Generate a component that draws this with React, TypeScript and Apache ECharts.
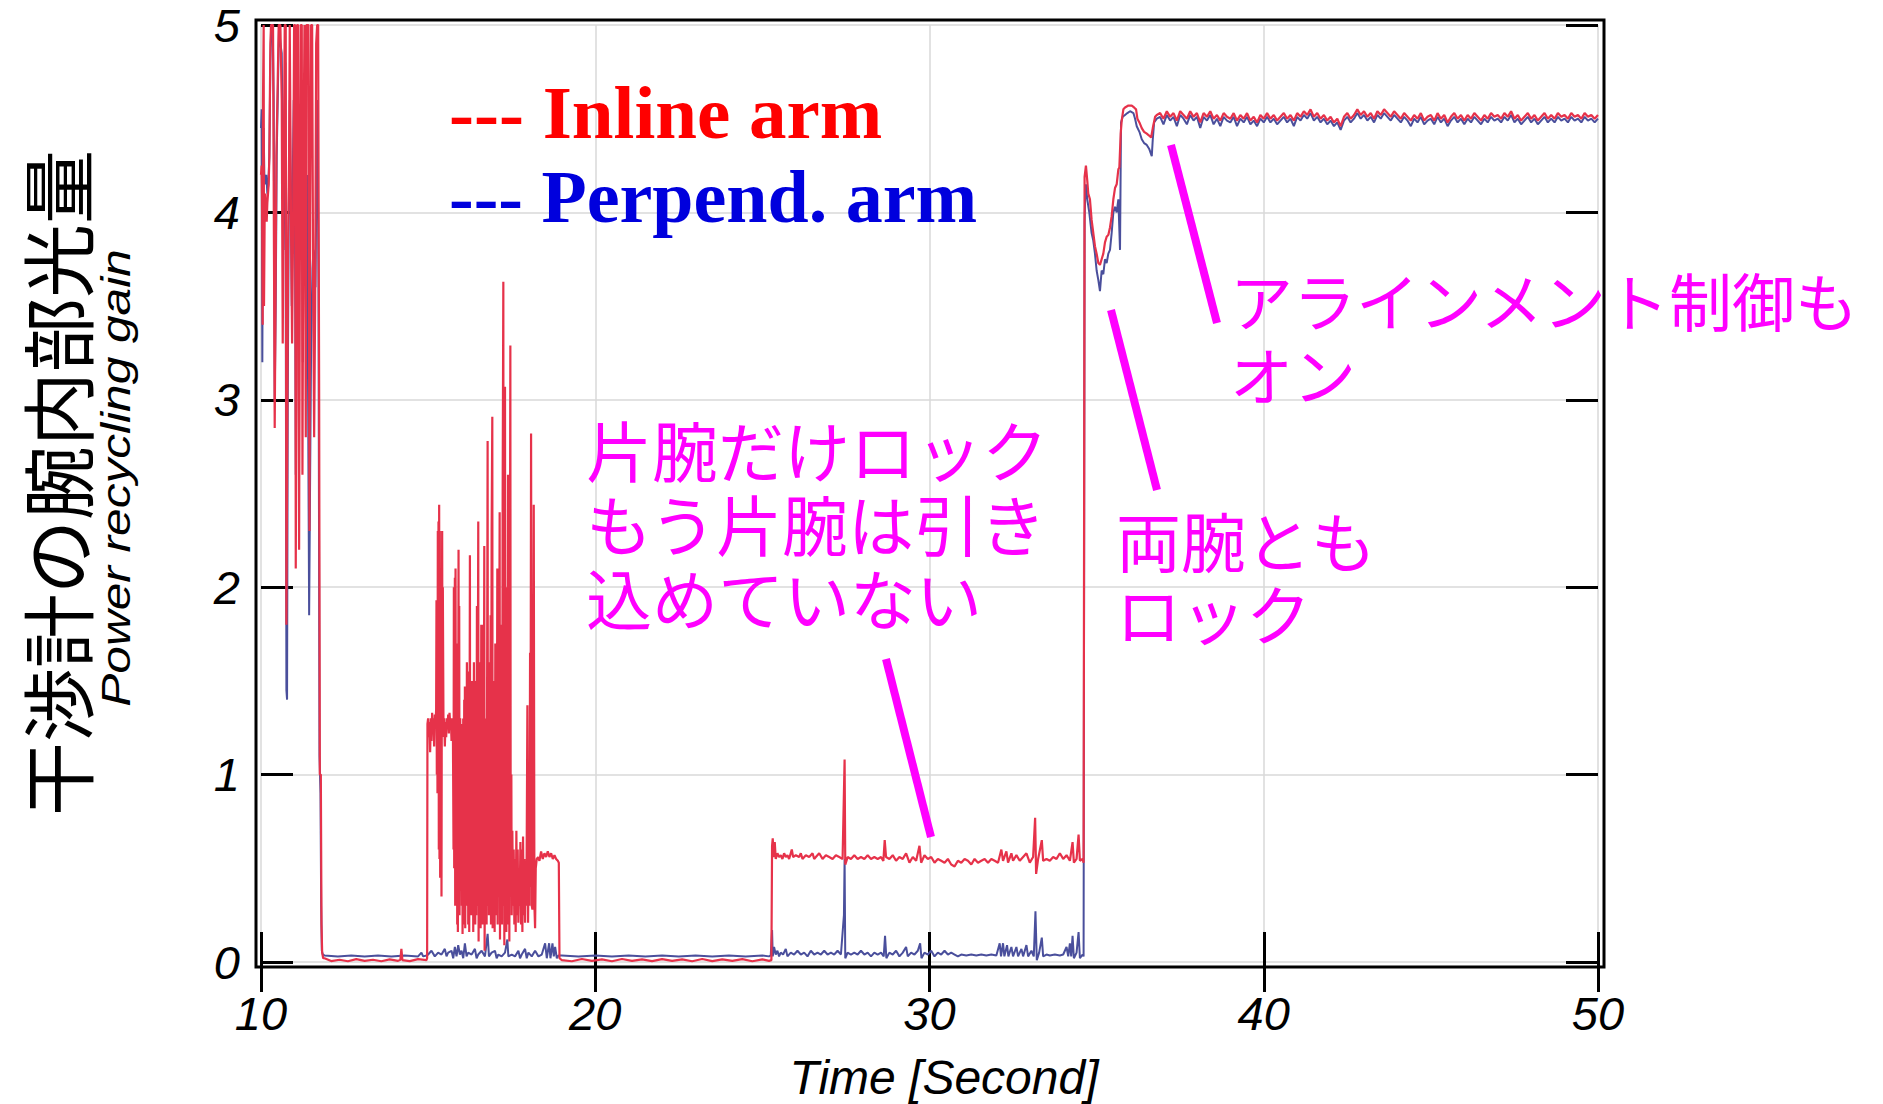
import React, { useEffect, useRef } from "react";
import * as echarts from "echarts";

// ---------------- data (time [s], power recycling gain) ----------------
const xTickValues = [10, 20, 30, 40, 50];
const yTickValues = [0, 1, 2, 3, 4, 5];

// Inline arm (red)
const inlineBurstA: number[][] = [
  [10.0, 4.2], [10.02, 4.25], [10.03, 4.1], [10.05, 3.4], [10.06, 4.6], [10.08, 5], [10.09, 3.5],
  [10.11, 4.0], [10.13, 4.1], [10.15, 4.0], [10.17, 3.95], [10.19, 4.05], [10.21, 4.1], [10.23, 4.15],
  [10.25, 4.3], [10.28, 4.9], [10.3, 5], [10.33, 5], [10.36, 5], [10.38, 5], [10.41, 2.85], [10.43, 3.4],
  [10.46, 4.3], [10.5, 4.7], [10.53, 5], [10.55, 5], [10.58, 5], [10.62, 4.6], [10.65, 3.3], [10.68, 4.2],
  [10.71, 5], [10.74, 5], [10.76, 1.8], [10.78, 2.6], [10.81, 3.8], [10.84, 4.3], [10.86, 5], [10.88, 5],
  [10.9, 3.9], [10.93, 3.3], [10.96, 3.9], [10.99, 5], [11.02, 5], [11.04, 2.1], [11.06, 3.1], [11.08, 5],
  [11.11, 5], [11.14, 2.2], [11.16, 3.6], [11.19, 5], [11.22, 5], [11.24, 2.6], [11.27, 4.2], [11.3, 5],
  [11.32, 5], [11.34, 2.8], [11.36, 5], [11.39, 5], [11.42, 5], [11.45, 2.3], [11.47, 4.0], [11.5, 5],
  [11.53, 5], [11.56, 3.6], [11.59, 2.8], [11.62, 3.5], [11.65, 4.9], [11.68, 5], [11.71, 5], [11.74, 3.0],
  [11.76, 1.0], [11.79, 1.0], [11.81, 0.2], [11.83, 0.05], [11.86, 0.02],
];
const inlineLowB: number[][] = [
  [11.9, 0.02], [12.1, 0.005], [12.35, 0.012], [12.6, 0.004], [12.85, 0.015], [13.1, 0.006], [13.35, 0.012],
  [13.6, 0.004], [13.85, 0.014], [14.1, 0.006], [14.17, 0.012], [14.2, 0.07], [14.23, 0.01], [14.45, 0.005],
  [14.7, 0.015], [14.95, 0.01],
];
const inlineBurstC: number[][] = [
  [14.97, 0.02], [14.98, 1.27], [15.0, 1.3], [15.02, 1.2], [15.04, 1.28], [15.06, 1.12], [15.08, 1.3],
  [15.1, 1.18], [15.12, 1.33], [15.14, 1.22], [15.16, 1.3], [15.18, 1.15], [15.2, 1.32], [15.22, 1.25],
  [15.24, 1.35], [15.25, 1.93], [15.26, 1.0], [15.27, 1.85], [15.28, 0.9], [15.29, 2.3], [15.3, 1.1],
  [15.31, 2.35], [15.32, 0.6], [15.33, 2.44], [15.34, 0.55], [15.35, 2.3], [15.36, 0.45], [15.37, 2.1],
  [15.38, 1.3], [15.39, 2.0], [15.4, 0.35], [15.41, 1.5], [15.42, 2.3], [15.43, 1.2], [15.44, 2.0],
  [15.46, 1.25], [15.48, 1.3], [15.5, 1.15], [15.52, 1.28], [15.54, 1.2], [15.56, 1.3], [15.58, 1.25],
  [15.6, 1.32], [15.62, 1.22], [15.64, 1.33], [15.66, 1.27], [15.68, 1.3], [15.7, 1.18], [15.72, 1.28],
  [15.74, 1.3], [15.76, 0.6], [15.77, 2.0], [15.78, 0.5], [15.79, 1.5], [15.8, 2.05], [15.81, 0.3],
  [15.82, 2.1], [15.83, 0.9], [15.84, 1.5], [15.85, 0.5], [15.86, 1.7], [15.87, 0.2], [15.88, 1.4],
  [15.89, 0.16], [15.91, 2.2], [15.92, 0.3], [15.93, 1.9], [15.94, 0.25], [15.96, 1.3], [15.98, 0.6],
  [16.0, 1.27], [16.01, 0.3], [16.02, 1.1], [16.03, 0.15], [16.05, 1.3], [16.06, 0.2], [16.08, 1.4],
  [16.09, 0.5], [16.1, 1.47], [16.11, 0.18], [16.13, 1.0], [16.14, 0.3], [16.16, 1.6], [16.17, 0.35],
  [16.19, 1.2], [16.2, 0.2], [16.22, 1.55], [16.23, 0.16], [16.25, 2.17], [16.26, 0.4], [16.28, 1.2],
  [16.29, 0.25], [16.31, 1.5], [16.32, 0.3], [16.34, 1.1], [16.35, 0.16], [16.37, 1.6], [16.38, 0.4],
  [16.4, 1.2], [16.41, 0.2], [16.43, 1.5], [16.44, 0.25], [16.46, 1.9], [16.47, 0.3], [16.5, 2.35],
  [16.51, 0.11], [16.53, 1.6], [16.54, 0.4], [16.56, 1.1], [16.57, 0.18], [16.59, 1.8], [16.6, 0.35],
  [16.62, 1.4], [16.63, 0.2], [16.65, 1.8], [16.66, 0.45], [16.68, 2.22], [16.69, 0.06], [16.71, 1.3],
  [16.72, 0.3], [16.74, 1.2], [16.75, 0.2], [16.78, 2.78], [16.79, 0.3], [16.81, 1.6], [16.82, 0.25],
  [16.84, 0.7], [16.85, 0.4], [16.87, 1.85], [16.88, 0.2], [16.9, 2.3], [16.92, 2.91], [16.93, 0.18],
  [16.95, 1.5], [16.96, 0.3], [16.98, 1.1], [16.99, 0.16], [17.01, 1.7], [17.02, 0.25], [17.04, 1.0],
  [17.05, 0.4], [17.07, 2.1], [17.08, 0.2], [17.1, 1.4], [17.11, 0.4], [17.14, 2.4], [17.15, 0.12],
  [17.17, 1.3], [17.18, 0.3], [17.2, 1.8], [17.21, 0.2], [17.23, 2.5], [17.25, 3.63], [17.26, 0.3],
  [17.27, 2.6], [17.28, 0.09], [17.3, 3.07], [17.31, 0.2], [17.33, 1.5], [17.34, 0.16], [17.36, 2.0],
  [17.37, 0.3], [17.39, 2.6], [17.4, 0.2], [17.42, 1.2], [17.43, 0.11], [17.46, 3.29], [17.47, 0.4],
  [17.49, 1.0], [17.5, 0.25], [17.52, 0.7], [17.54, 0.3], [17.56, 0.6], [17.58, 0.2], [17.6, 0.55],
  [17.62, 0.16], [17.64, 0.7], [17.66, 0.25], [17.68, 0.6], [17.7, 0.21], [17.72, 0.5], [17.74, 0.3],
  [17.76, 0.64], [17.78, 0.2], [17.8, 0.6], [17.82, 0.16], [17.84, 0.67], [17.86, 0.25], [17.88, 0.55],
  [17.9, 0.21], [17.92, 0.5], [17.94, 0.3], [17.96, 1.0], [17.97, 1.37], [17.99, 0.21], [18.01, 0.6],
  [18.03, 0.3], [18.05, 1.65], [18.06, 0.4], [18.08, 2.82], [18.1, 0.3], [18.12, 0.28], [18.14, 1.0],
  [18.16, 2.44], [18.18, 0.3], [18.2, 0.18], [18.22, 0.5], [18.25, 0.55], [18.29, 0.56], [18.33, 0.54],
  [18.38, 0.59], [18.43, 0.55], [18.48, 0.58], [18.53, 0.56], [18.58, 0.59], [18.63, 0.56], [18.68, 0.58],
  [18.73, 0.55], [18.78, 0.57], [18.83, 0.55], [18.88, 0.54], [18.91, 0.53], [18.93, 0.02],
];
const inlineLowD: number[][] = [
  [19.0, 0.01], [19.3, 0.004], [19.6, 0.016], [19.9, 0.006], [20.2, 0.014], [20.5, 0.004], [20.8, 0.016],
  [21.1, 0.006], [21.4, 0.014], [21.7, 0.005], [22.0, 0.015], [22.3, 0.006], [22.6, 0.014], [22.9, 0.004],
  [23.2, 0.016], [23.5, 0.005], [23.8, 0.014], [24.1, 0.006], [24.4, 0.015], [24.7, 0.004], [25.0, 0.014],
  [25.2, 0.006],
];
const inlineOneArmE: number[][] = [
  [25.27, 0.01], [25.29, 0.62], [25.31, 0.66], [25.34, 0.56], [25.37, 0.64], [25.4, 0.55], [25.45, 0.58],
  [25.5, 0.56], [25.55, 0.57], [25.6, 0.55], [25.65, 0.58], [25.7, 0.56], [25.75, 0.57], [25.8, 0.55],
  [25.88, 0.6], [25.92, 0.56], [26.0, 0.57], [26.1, 0.56], [26.15, 0.58], [26.2, 0.55], [26.3, 0.57],
  [26.4, 0.56], [26.5, 0.58], [26.55, 0.55], [26.6, 0.56], [26.7, 0.58], [26.8, 0.55], [26.9, 0.57],
  [27.0, 0.56], [27.1, 0.55], [27.2, 0.57], [27.3, 0.56], [27.4, 0.55], [27.46, 1.08], [27.48, 0.52],
  [27.55, 0.56], [27.65, 0.55], [27.75, 0.57], [27.85, 0.55], [27.95, 0.56], [28.05, 0.55], [28.15, 0.57],
  [28.25, 0.55], [28.35, 0.56], [28.45, 0.55], [28.55, 0.56], [28.62, 0.54], [28.66, 0.65], [28.7, 0.56],
  [28.8, 0.55], [28.9, 0.57], [29.0, 0.54], [29.1, 0.56], [29.2, 0.55], [29.3, 0.58], [29.4, 0.53],
  [29.5, 0.56], [29.6, 0.54], [29.7, 0.62], [29.75, 0.53], [29.85, 0.57], [29.95, 0.55], [30.05, 0.56],
  [30.15, 0.53], [30.25, 0.55], [30.35, 0.54], [30.45, 0.53], [30.55, 0.55], [30.65, 0.52], [30.75, 0.51],
  [30.85, 0.54], [30.95, 0.53], [31.05, 0.55], [31.15, 0.54], [31.25, 0.52], [31.35, 0.55], [31.45, 0.53],
  [31.55, 0.54], [31.65, 0.55], [31.75, 0.53], [31.85, 0.55], [31.95, 0.54], [32.05, 0.53], [32.15, 0.6],
  [32.2, 0.54], [32.3, 0.59], [32.35, 0.53], [32.45, 0.58], [32.5, 0.54], [32.6, 0.57], [32.7, 0.54],
  [32.8, 0.56], [32.9, 0.58], [33.0, 0.53], [33.1, 0.56], [33.16, 0.77], [33.19, 0.47], [33.25, 0.55],
  [33.36, 0.65], [33.4, 0.54], [33.5, 0.55], [33.6, 0.54], [33.7, 0.56], [33.8, 0.55], [33.9, 0.58],
  [34.0, 0.55], [34.1, 0.57], [34.2, 0.54], [34.28, 0.64], [34.32, 0.53], [34.4, 0.55], [34.46, 0.68],
  [34.5, 0.54], [34.58, 0.55], [34.61, 0.53],
];
const inlineLockF: number[][] = [
  [34.64, 4.19], [34.68, 4.25], [34.72, 4.17], [34.75, 4.1], [34.8, 4.07], [34.85, 3.96], [34.9, 3.89],
  [34.95, 3.82], [35.0, 3.78], [35.05, 3.73], [35.1, 3.72], [35.15, 3.75], [35.2, 3.78], [35.25, 3.84],
  [35.3, 3.87], [35.35, 3.88], [35.4, 3.92], [35.45, 3.98], [35.5, 4.07], [35.55, 4.13], [35.6, 4.15],
  [35.65, 4.23], [35.68, 4.24], [35.72, 4.42], [35.75, 4.49], [35.8, 4.55], [35.85, 4.56], [35.95, 4.57],
  [36.05, 4.57], [36.12, 4.56], [36.18, 4.55], [36.22, 4.5], [36.28, 4.48], [36.35, 4.45], [36.42, 4.43],
  [36.5, 4.42], [36.57, 4.41], [36.63, 4.4], [36.68, 4.45], [36.75, 4.51], [36.8, 4.52],
];
const steadyStart = 36.9;
const steadyStep = 0.1;
const inlineSteadyG = [
  4.53, 4.5, 4.54, 4.51, 4.53, 4.49, 4.54, 4.52, 4.5, 4.54, 4.51, 4.53, 4.48, 4.53, 4.51, 4.54, 4.5, 4.52,
  4.49, 4.53, 4.51, 4.5, 4.53, 4.49, 4.52, 4.5, 4.53, 4.49, 4.51, 4.48, 4.52, 4.5, 4.53, 4.5, 4.52, 4.49,
  4.51, 4.53, 4.5, 4.52, 4.49, 4.53, 4.51, 4.54, 4.52, 4.55, 4.51, 4.53, 4.5, 4.52, 4.49, 4.51, 4.48, 4.5,
  4.46, 4.51, 4.53, 4.5, 4.52, 4.55, 4.52, 4.54, 4.51, 4.53, 4.5, 4.54, 4.52, 4.55, 4.53, 4.51, 4.54, 4.52,
  4.5, 4.53, 4.51, 4.49, 4.52, 4.5, 4.53, 4.49, 4.51, 4.52, 4.49, 4.53, 4.5, 4.52, 4.48, 4.51, 4.53, 4.5,
  4.52, 4.49, 4.52, 4.5, 4.53, 4.51, 4.49, 4.52, 4.5, 4.53, 4.51, 4.52, 4.5, 4.53, 4.51, 4.54, 4.5, 4.52,
  4.49, 4.51, 4.53, 4.5, 4.52, 4.49, 4.51, 4.53, 4.5, 4.52, 4.5, 4.53, 4.51, 4.52, 4.5, 4.53, 4.51, 4.52,
  4.5, 4.53, 4.51, 4.52, 4.5, 4.52,
];

// Perpendicular arm (blue)
const perpBurstA: number[][] = [
  [10.0, 4.45], [10.02, 4.55], [10.04, 3.2], [10.06, 4.3], [10.08, 4.45], [10.1, 4.2], [10.13, 4.15],
  [10.16, 4.2], [10.19, 4.1], [10.22, 4.15], [10.25, 4.3], [10.28, 4.8], [10.31, 5], [10.35, 5], [10.38, 4.6],
  [10.41, 3.0], [10.44, 3.5], [10.47, 4.3], [10.5, 4.6], [10.54, 5], [10.58, 4.9], [10.62, 4.85], [10.64, 4.5],
  [10.67, 3.8], [10.7, 4.4], [10.73, 4.8], [10.76, 1.45], [10.78, 1.4], [10.8, 3.0], [10.83, 4.0], [10.86, 4.6],
  [10.89, 4.1], [10.92, 3.5], [10.95, 4.2], [10.98, 4.6], [11.01, 4.4], [11.04, 2.6], [11.07, 3.6], [11.1, 4.4],
  [11.13, 4.2], [11.16, 3.9], [11.19, 4.5], [11.22, 4.3], [11.25, 3.2], [11.28, 4.1], [11.31, 4.4], [11.35, 3.5],
  [11.38, 4.2], [11.41, 3.0], [11.44, 1.85], [11.47, 2.6], [11.5, 3.3], [11.54, 3.7], [11.57, 3.8], [11.6, 3.75],
  [11.63, 3.6], [11.66, 4.2], [11.69, 4.6], [11.72, 3.6], [11.75, 1.1], [11.78, 0.9], [11.8, 0.3], [11.82, 0.06],
  [11.85, 0.04],
];
const perpLowB: number[][] = [
  [11.9, 0.035], [12.3, 0.03], [12.7, 0.035], [13.1, 0.03], [13.5, 0.035], [13.9, 0.03], [14.3, 0.035],
  [14.7, 0.03], [14.8, 0.05], [14.85, 0.03], [14.95, 0.035],
];
const perpNoiseC: number[][] = [
  [15.0, 0.04], [15.1, 0.06], [15.2, 0.03], [15.3, 0.05], [15.4, 0.04], [15.5, 0.07], [15.55, 0.03],
  [15.6, 0.05], [15.7, 0.06], [15.75, 0.02], [15.8, 0.08], [15.85, 0.03], [15.9, 0.09], [15.95, 0.04],
  [16.0, 0.06], [16.05, 0.02], [16.1, 0.1], [16.15, 0.03], [16.2, 0.05], [16.3, 0.04], [16.4, 0.07],
  [16.45, 0.02], [16.5, 0.04], [16.6, 0.06], [16.7, 0.03], [16.78, 0.15], [16.82, 0.03], [16.9, 0.05],
  [17.0, 0.06], [17.05, 0.02], [17.1, 0.04], [17.2, 0.03], [17.3, 0.05], [17.37, 0.12], [17.4, 0.03],
  [17.5, 0.04], [17.6, 0.03], [17.7, 0.06], [17.75, 0.02], [17.8, 0.04], [17.9, 0.07], [17.95, 0.02],
  [18.0, 0.05], [18.1, 0.03], [18.2, 0.06], [18.3, 0.03], [18.4, 0.04], [18.5, 0.1], [18.55, 0.02],
  [18.62, 0.1], [18.66, 0.02], [18.72, 0.1], [18.76, 0.03], [18.8, 0.08], [18.85, 0.02], [18.9, 0.035],
];
const perpLowD: number[][] = [
  [19.0, 0.035], [19.5, 0.03], [20.0, 0.035], [20.5, 0.03], [21.0, 0.035], [21.5, 0.03], [22.0, 0.035],
  [22.5, 0.03], [23.0, 0.035], [23.5, 0.03], [24.0, 0.035], [24.5, 0.03], [25.0, 0.035], [25.2, 0.03],
];
const perpSpikesE: number[][] = [
  [25.25, 0.035], [25.29, 0.17], [25.31, 0.03], [25.35, 0.08], [25.4, 0.04], [25.45, 0.06], [25.5, 0.03],
  [25.55, 0.05], [25.62, 0.04], [25.7, 0.07], [25.75, 0.03], [25.85, 0.05], [25.95, 0.04], [26.05, 0.06],
  [26.15, 0.04], [26.25, 0.05], [26.35, 0.03], [26.45, 0.06], [26.55, 0.04], [26.65, 0.05], [26.75, 0.04],
  [26.85, 0.06], [26.95, 0.04], [27.05, 0.05], [27.15, 0.04], [27.25, 0.06], [27.35, 0.04], [27.44, 0.25],
  [27.46, 0.55], [27.48, 0.02], [27.55, 0.05], [27.65, 0.04], [27.75, 0.05], [27.85, 0.04], [27.95, 0.06],
  [28.05, 0.04], [28.15, 0.05], [28.25, 0.03], [28.35, 0.05], [28.45, 0.04], [28.55, 0.05], [28.63, 0.03],
  [28.67, 0.14], [28.71, 0.02], [28.8, 0.05], [28.9, 0.04], [29.0, 0.06], [29.1, 0.03], [29.2, 0.05],
  [29.3, 0.08], [29.35, 0.03], [29.45, 0.05], [29.55, 0.04], [29.65, 0.06], [29.72, 0.1], [29.76, 0.02],
  [29.85, 0.05], [29.95, 0.04], [30.05, 0.06], [30.15, 0.03], [30.25, 0.05], [30.35, 0.04], [30.45, 0.06],
  [30.55, 0.04], [30.65, 0.05], [30.75, 0.04], [30.85, 0.03], [30.95, 0.04], [31.1, 0.035], [31.25, 0.04],
  [31.4, 0.035], [31.55, 0.04], [31.7, 0.035], [31.85, 0.04], [32.0, 0.035], [32.1, 0.1], [32.14, 0.03],
  [32.2, 0.1], [32.24, 0.03], [32.32, 0.09], [32.36, 0.03], [32.45, 0.08], [32.5, 0.03], [32.6, 0.08],
  [32.65, 0.03], [32.75, 0.07], [32.8, 0.03], [32.9, 0.09], [32.95, 0.03], [33.05, 0.06], [33.12, 0.03],
  [33.17, 0.27], [33.21, 0.01], [33.28, 0.05], [33.36, 0.13], [33.4, 0.03], [33.5, 0.04], [33.6, 0.035],
  [33.75, 0.04], [33.9, 0.035], [34.0, 0.04], [34.1, 0.08], [34.15, 0.03], [34.2, 0.1], [34.24, 0.03],
  [34.28, 0.14], [34.32, 0.02], [34.4, 0.05], [34.46, 0.16], [34.5, 0.02], [34.58, 0.04], [34.61, 0.03],
];
const perpLockF: number[][] = [
  [34.64, 3.95], [34.66, 4.1], [34.68, 4.15], [34.72, 4.07], [34.78, 4.0], [34.85, 3.89], [34.9, 3.85],
  [34.95, 3.78], [35.0, 3.69], [35.05, 3.64], [35.1, 3.58], [35.15, 3.69], [35.2, 3.67], [35.25, 3.75],
  [35.3, 3.73], [35.35, 3.78], [35.4, 3.8], [35.45, 3.89], [35.5, 4.0], [35.55, 4.03], [35.6, 4.0],
  [35.65, 4.07], [35.7, 3.8], [35.73, 4.48], [35.78, 4.51], [35.85, 4.52], [35.92, 4.53], [36.0, 4.54],
  [36.1, 4.53], [36.15, 4.5], [36.2, 4.46], [36.28, 4.43], [36.35, 4.39], [36.42, 4.37], [36.5, 4.36],
  [36.57, 4.34], [36.65, 4.3], [36.68, 4.39], [36.72, 4.48], [36.8, 4.5],
];
const perpSteadyG = [
  4.51, 4.47, 4.52, 4.49, 4.51, 4.46, 4.52, 4.5, 4.47, 4.52, 4.49, 4.51, 4.45, 4.51, 4.49, 4.52, 4.47, 4.5,
  4.46, 4.51, 4.49, 4.48, 4.51, 4.46, 4.5, 4.48, 4.51, 4.47, 4.49, 4.46, 4.5, 4.48, 4.51, 4.48, 4.5, 4.47,
  4.49, 4.51, 4.48, 4.5, 4.46, 4.51, 4.49, 4.52, 4.5, 4.53, 4.49, 4.51, 4.48, 4.5, 4.47, 4.49, 4.46, 4.48,
  4.44, 4.49, 4.51, 4.48, 4.5, 4.53, 4.5, 4.52, 4.49, 4.51, 4.48, 4.52, 4.5, 4.53, 4.51, 4.49, 4.52, 4.5,
  4.48, 4.51, 4.49, 4.46, 4.5, 4.48, 4.51, 4.47, 4.49, 4.5, 4.47, 4.51, 4.48, 4.5, 4.46, 4.49, 4.51, 4.48,
  4.5, 4.47, 4.5, 4.48, 4.51, 4.49, 4.47, 4.5, 4.48, 4.51, 4.49, 4.5, 4.48, 4.51, 4.49, 4.52, 4.48, 4.5,
  4.47, 4.49, 4.51, 4.48, 4.5, 4.47, 4.49, 4.51, 4.48, 4.5, 4.48, 4.51, 4.49, 4.5, 4.48, 4.51, 4.49, 4.5,
  4.48, 4.51, 4.49, 4.5, 4.48, 4.5,
];

const legendLabels = ["--- Inline arm", "--- Perpend. arm"];
const annotationOneArm = ["片腕だけロック", "もう片腕は引き", "込めていない"];
const annotationBoth = ["両腕とも", "ロック"];
const annotationAlign = ["アラインメント制御も", "オン"];

function steadyPairs(vals: number[]) {
  return vals.map((v, i) => [Math.round((steadyStart + i * steadyStep) * 100) / 100, v]);
}

const inlineData = [
  ...inlineBurstA, ...inlineLowB, ...inlineBurstC, ...inlineLowD, ...inlineOneArmE, ...inlineLockF,
  ...steadyPairs(inlineSteadyG),
];
const perpData = [
  ...perpBurstA, ...perpLowB, ...perpNoiseC, ...perpLowD, ...perpSpikesE, ...perpLockF,
  ...steadyPairs(perpSteadyG),
];

const SANS = '"Liberation Sans", Arial, sans-serif';
const SERIF = '"Liberation Serif", "Times New Roman", serif';
const CJK = '"Noto Sans CJK JP", "Noto Sans CJK SC", sans-serif';
const MAGENTA = "#ff00ff";

export default function App() {
  const ref = useRef<HTMLDivElement>(null);

  useEffect(() => {
    if (!ref.current) return;
    const chart = echarts.init(ref.current, undefined, { renderer: "svg" });

    const tickStyle = { color: "#000", width: 3 };
    const option: any = {
      animation: false,
      backgroundColor: "#fff",
      grid: { left: 261, top: 25, width: 1337, height: 937, containLabel: false },
      xAxis: [
        {
          type: "value", min: xTickValues[0], max: xTickValues[xTickValues.length - 1], interval: 10,
          position: "bottom",
          axisLine: { show: false },
          axisTick: { show: true, inside: true, length: 30, lineStyle: tickStyle },
          axisLabel: {
            margin: 28, fontSize: 47, fontStyle: "italic", fontFamily: SANS, color: "#000",
          },
          splitLine: { show: true, lineStyle: { color: "#d9d9d9", width: 1.5 } },
        },
        {
          type: "value", min: xTickValues[0], max: xTickValues[xTickValues.length - 1], interval: 10,
          position: "top",
          axisLine: { show: false },
          axisTick: { show: true, inside: true, length: 30, lineStyle: tickStyle },
          axisLabel: { show: false },
          splitLine: { show: false },
        },
      ],
      yAxis: [
        {
          type: "value", min: yTickValues[0], max: yTickValues[yTickValues.length - 1], interval: 1,
          position: "left",
          axisLine: { show: false },
          axisTick: { show: true, inside: true, length: 32, lineStyle: tickStyle },
          axisLabel: {
            margin: 21, fontSize: 47, fontStyle: "italic", fontFamily: SANS, color: "#000",
          },
          splitLine: { show: true, lineStyle: { color: "#d9d9d9", width: 1.5 } },
        },
        {
          type: "value", min: yTickValues[0], max: yTickValues[yTickValues.length - 1], interval: 1,
          position: "right",
          axisLine: { show: false },
          axisTick: { show: true, inside: true, length: 32, lineStyle: tickStyle },
          axisLabel: { show: false },
          splitLine: { show: false },
        },
      ],
      series: [
        {
          name: "Perpend. arm", type: "line", data: perpData, showSymbol: false, symbol: "none",
          xAxisIndex: 0, yAxisIndex: 0, clip: true, z: 2,
          lineStyle: { color: "#4a4f9c", width: 2 },
        },
        {
          name: "Inline arm", type: "line", data: inlineData, showSymbol: false, symbol: "none",
          xAxisIndex: 0, yAxisIndex: 0, clip: true, z: 3,
          lineStyle: { color: "#e6324a", width: 2.2 },
        },
      ],
      graphic: [
        {
          type: "rect", z: 100, silent: true,
          shape: { x: 256, y: 20, width: 1348, height: 947 },
          style: { fill: "none", stroke: "#000", lineWidth: 3 },
        },
        {
          type: "text", z: 100, x: 449, y: 112,
          style: {
            text: legendLabels[0], fill: "#ff0000", fontFamily: SERIF, fontWeight: "bold", fontSize: 75,
            align: "left", verticalAlign: "middle",
          },
        },
        {
          type: "text", z: 100, x: 449, y: 197,
          style: {
            text: legendLabels[1], fill: "#0000dd", fontFamily: SERIF, fontWeight: "bold", fontSize: 74,
            align: "left", verticalAlign: "middle",
          },
        },
        {
          type: "text", z: 100, x: 54, y: 483, rotation: Math.PI / 2,
          style: {
            text: "干渉計の腕内部光量", fill: "#000", fontFamily: CJK, fontSize: 74,
            align: "center", verticalAlign: "middle",
          },
        },
        {
          type: "text", z: 100, x: 116, y: 478, rotation: Math.PI / 2, scaleX: 1.24, scaleY: 1,
          style: {
            text: "Power recycling gain", fill: "#000", fontFamily: SANS, fontStyle: "italic", fontSize: 40,
            align: "center", verticalAlign: "middle",
          },
        },
        {
          type: "text", z: 100, x: 944, y: 1077,
          style: {
            text: "Time [Second]", fill: "#000", fontFamily: SANS, fontStyle: "italic", fontSize: 48,
            align: "center", verticalAlign: "middle",
          },
        },
        {
          type: "text", z: 100, x: 586, y: 411,
          style: {
            text: annotationOneArm.join("\n"), fill: MAGENTA, fontFamily: CJK, fontSize: 66, lineHeight: 74,
            align: "left", verticalAlign: "top",
          },
        },
        {
          type: "text", z: 100, x: 1116, y: 502,
          style: {
            text: annotationBoth.join("\n"), fill: MAGENTA, fontFamily: CJK, fontSize: 65, lineHeight: 73,
            align: "left", verticalAlign: "top",
          },
        },
        {
          type: "text", z: 100, x: 1230, y: 261,
          style: {
            text: annotationAlign.join("\n"), fill: MAGENTA, fontFamily: CJK, fontSize: 63, lineHeight: 74,
            align: "left", verticalAlign: "top",
          },
        },
        {
          type: "line", z: 100, silent: true,
          shape: { x1: 931, y1: 837, x2: 886, y2: 659 },
          style: { stroke: MAGENTA, lineWidth: 8 },
        },
        {
          type: "line", z: 100, silent: true,
          shape: { x1: 1157, y1: 490, x2: 1111, y2: 310 },
          style: { stroke: MAGENTA, lineWidth: 8 },
        },
        {
          type: "line", z: 100, silent: true,
          shape: { x1: 1217, y1: 323, x2: 1171, y2: 145 },
          style: { stroke: MAGENTA, lineWidth: 8 },
        },
      ],
    };

    chart.setOption(option);
    return () => chart.dispose();
  }, []);

  return (
    <div
      ref={ref}
      style={{ position: "fixed", left: 0, top: 0, width: 1883, height: 1104, background: "#fff" }}
    />
  );
}
